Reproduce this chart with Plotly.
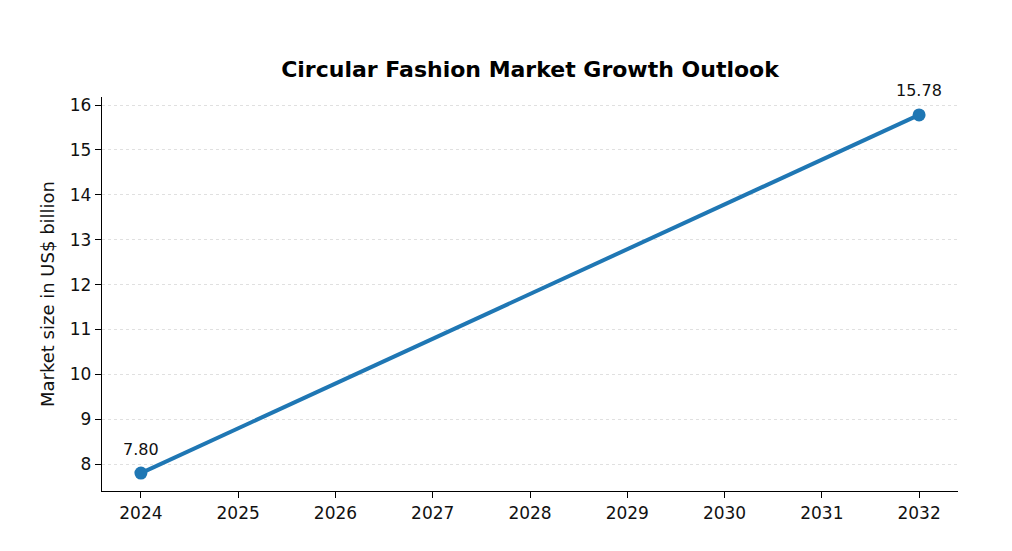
import plotly.graph_objects as go

years = [2024, 2032]
market_size = [7.80, 15.78]
labels = ["7.80", "15.78"]
x_ticks = list(range(2024, 2033))
y_ticks = list(range(8, 17))

font = "DejaVu Sans"

fig = go.Figure()
fig.add_trace(go.Scatter(
    x=years, y=market_size, mode="lines+markers",
    line=dict(color="#1f77b4", width=4),
    marker=dict(color="#1f77b4", size=13),
    showlegend=False, hoverinfo="skip",
))
for xv, yv, t in zip(years, market_size, labels):
    fig.add_annotation(x=xv, y=yv, text=t, showarrow=False, yshift=24,
                       font=dict(family=font, size=16, color="#111"))

fig.update_layout(
    width=1012, height=551,
    margin=dict(l=102, r=54, t=97, b=60),
    paper_bgcolor="white", plot_bgcolor="white",
    title=dict(text="<b>Circular Fashion Market Growth Outlook</b>", x=0.5, xanchor="center",
               xref="paper", y=1 - 69/551, yanchor="middle",
               font=dict(family=font, size=22, color="black")),
    font=dict(family=font, size=17, color="#111"),
)
fig.update_xaxes(range=[2023.6, 2032.4], tickvals=x_ticks, ticktext=[str(v) for v in x_ticks],
                 showgrid=False, zeroline=False, showline=True, linecolor="black", linewidth=1.3,
                 ticks="outside", ticklen=6, tickwidth=1.2, tickcolor="black",
                 tickfont=dict(family=font, size=17, color="#111"))
fig.update_yaxes(range=[7.401, 16.179], tickvals=y_ticks,
                 showgrid=True, gridcolor="#e0e0e0", griddash="dot", gridwidth=1,
                 zeroline=False, showline=True, linecolor="black", linewidth=1.3,
                 ticks="outside", ticklen=6, tickwidth=1.2, tickcolor="black",
                 tickfont=dict(family=font, size=17, color="#111"),
                 title=dict(text="Market size in US$ billion", standoff=10,
                            font=dict(family=font, size=18, color="#111")))

fig.write_html("out.html")
